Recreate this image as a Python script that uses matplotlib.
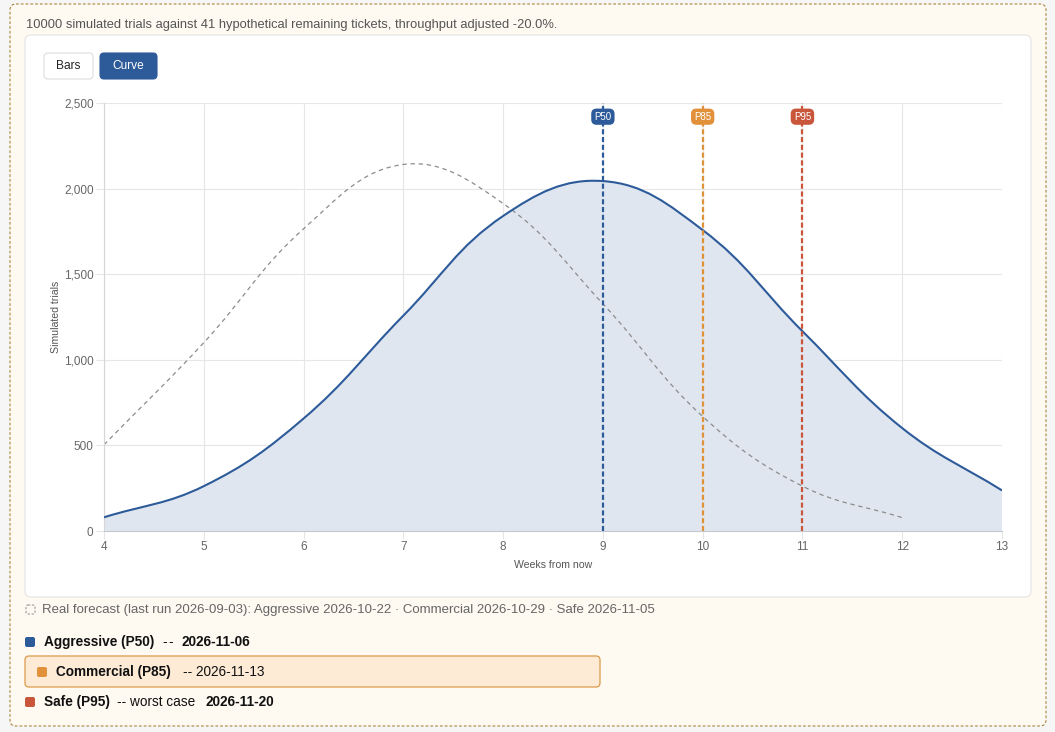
import matplotlib
matplotlib.use('Agg')
import matplotlib.pyplot as plt
from matplotlib.patches import FancyBboxPatch, PathPatch
from matplotlib.path import Path
from matplotlib.ticker import FuncFormatter
import numpy as np

plt.rcParams['font.family'] = ['Liberation Sans', 'DejaVu Sans']

# data
weeks = [4, 5, 6, 7, 8, 9, 10, 11, 12, 13]
trials = [80, 262, 657, 1258, 1840, 2044, 1758, 1167, 601, 237]
real_weeks = [4, 5, 6, 7, 8, 9, 10, 11, 12]
real_trials = [504, 1100, 1765, 2141, 1913, 1327, 669, 262, 78]
markers = ['P50', 'P85', 'P95']
marker_weeks = [9, 10, 11]

BLUE = '#2d5b9a'
ORANGE = '#e0913a'
RED = '#c9553a'
marker_colors = [BLUE, ORANGE, RED]

W, H = 1055, 732
fig = plt.figure(figsize=(W / 100, H / 100), dpi=100)
fig.patch.set_facecolor('#f6f6f7')

# background layer in pixel coords
bg = fig.add_axes([0, 0, 1, 1], zorder=-1)
bg.set_xlim(0, W)
bg.set_ylim(H, 0)
bg.axis('off')

bg.add_patch(FancyBboxPatch((10, 4), 1036, 722, boxstyle='round,pad=0,rounding_size=6',
                            fc='#fef9f1', ec='#a8873c', lw=0.8, ls=(0, (2.5, 1.8))))
bg.add_patch(FancyBboxPatch((25, 35), 1006, 562, boxstyle='round,pad=0,rounding_size=6',
                            fc='white', ec='#e4e4e4', lw=0.8))
bg.text(26, 25, '10000 simulated trials against 41 hypothetical remaining tickets, throughput adjusted -20.0%.',
        fontsize=9.3, color='#555555', va='center')

# toggle buttons
bg.add_patch(FancyBboxPatch((44, 53), 49, 26, boxstyle='round,pad=0,rounding_size=4',
                            fc='white', ec='#dddddd', lw=0.8))
bg.text(68.5, 66, 'Bars', fontsize=8.6, color='#222222', ha='center', va='center')
bg.add_patch(FancyBboxPatch((100, 53), 57, 26, boxstyle='round,pad=0,rounding_size=4',
                            fc=BLUE, ec=BLUE, lw=0.8))
bg.text(128.5, 66, 'Curve', fontsize=8.6, color='white', ha='center', va='center')

# footer
bg.add_patch(FancyBboxPatch((26, 605), 9, 9, boxstyle='round,pad=0,rounding_size=2',
                            fc='none', ec='#999999', lw=0.8, ls=(0, (2, 1.5))))
bg.text(42, 610, 'Real forecast (last run 2026-09-03): Aggressive 2026-10-22 \u00b7 Commercial 2026-10-29 \u00b7 Safe 2026-11-05',
        fontsize=9.5, color='#666666', va='center')

bg.add_patch(FancyBboxPatch((25, 656), 575, 31, boxstyle='round,pad=0,rounding_size=4',
                            fc='#fdebd6', ec='#dc9a4a', lw=0.9))

LS = 9.8
bg.add_patch(FancyBboxPatch((25, 637), 10, 10, boxstyle='round,pad=0,rounding_size=2', fc=BLUE, ec='none'))
bg.text(44, 642, 'Aggressive (P50)', fontsize=LS, fontweight='bold', color='#111111', va='center')
bg.text(162, 642, '-', fontsize=LS, color='#111111', va='center')
bg.text(168, 642, '-', fontsize=LS, color='#111111', va='center')
bg.text(181, 642, '2026-11-06', fontsize=LS, fontweight='bold', color='#111111', va='center')

bg.add_patch(FancyBboxPatch((37, 667), 10, 10, boxstyle='round,pad=0,rounding_size=2', fc=ORANGE, ec='none'))
bg.text(56, 672, 'Commercial (P85)', fontsize=LS, fontweight='bold', color='#111111', va='center')
bg.text(183, 672, '-- 2026-11-13', fontsize=LS, color='#111111', va='center')

bg.add_patch(FancyBboxPatch((25, 697), 10, 10, boxstyle='round,pad=0,rounding_size=2', fc=RED, ec='none'))
bg.text(44, 702, 'Safe (P95)', fontsize=LS, fontweight='bold', color='#111111', va='center')
bg.text(117, 702, '-- worst case', fontsize=LS, color='#111111', va='center')
bg.text(206, 702, '2026-11-20', fontsize=LS, fontweight='bold', color='#111111', va='center')

# chart area
x0, x1, y0, y1 = 104, 1002, 103, 531
ax = fig.add_axes([x0 / W, 1 - y1 / H, (x1 - x0) / W, (y1 - y0) / H])
ax.set_facecolor('none')
ax.set_xlim(4, 13)
ax.set_ylim(0, 2500)
sx = (x1 - x0) / 9.0
sy = (y1 - y0) / 2500.0


def bezier_verts(xs, ys, t=0.4):
    xs = np.asarray(xs, float)
    ys = np.asarray(ys, float)
    n = len(xs)
    cin, cout = [], []
    for i in range(n):
        p = np.array([xs[i], ys[i]])
        prv = np.array([xs[max(i - 1, 0)], ys[max(i - 1, 0)]])
        nxt = np.array([xs[min(i + 1, n - 1)], ys[min(i + 1, n - 1)]])
        d01 = np.hypot((p[0] - prv[0]) * sx, (p[1] - prv[1]) * sy)
        d12 = np.hypot((nxt[0] - p[0]) * sx, (nxt[1] - p[1]) * sy)
        tot = d01 + d12
        s01 = d01 / tot if tot else 0
        s12 = d12 / tot if tot else 0
        cin.append(p - t * s01 * (nxt - prv))
        cout.append(p + t * s12 * (nxt - prv))
    verts = [(xs[0], ys[0])]
    codes = [Path.MOVETO]
    for i in range(n - 1):
        verts += [tuple(cout[i]), tuple(cin[i + 1]), (xs[i + 1], ys[i + 1])]
        codes += [Path.CURVE4] * 3
    return verts, codes


v, c = bezier_verts(weeks, trials)
fill_path = Path(v + [(weeks[-1], 0), (weeks[0], 0), (weeks[0], 0)],
                 c + [Path.LINETO, Path.LINETO, Path.CLOSEPOLY])
ax.add_patch(PathPatch(fill_path, fc='#dfe6f0', ec='none', zorder=1))
ax.add_patch(PathPatch(Path(v, c), fc='none', ec=BLUE, lw=1.5, zorder=3))

rv, rc = bezier_verts(real_weeks, real_trials)
ax.add_patch(PathPatch(Path(rv, rc), fc='none', ec='#8c8c8c', lw=0.9, ls=(0, (3.5, 3)), zorder=2))

for name, wk, col in zip(markers, marker_weeks, marker_colors):
    ax.vlines(wk, 0, 2500, colors=col, lw=1.6, linestyles=(0, (2.3, 1.2)), zorder=4)
    ax.text(wk, 2420, name, fontsize=7, color='white', ha='center', va='center', zorder=5,
            bbox=dict(boxstyle='round,pad=0.32,rounding_size=0.55', fc=col, ec='none'))

ax.set_xticks(weeks)
ax.set_yticks(range(0, 2501, 500))
ax.yaxis.set_major_formatter(FuncFormatter(lambda y, _: '{:,.0f}'.format(y)))
ax.grid(True, color='#e6e6e6', lw=0.8)
ax.set_axisbelow(True)
ax.tick_params(length=6, color='#e6e6e6', labelsize=8.5, labelcolor='#666666', pad=1.5)
for s in ['top', 'right']:
    ax.spines[s].set_visible(False)
ax.spines['left'].set_color('#d6d6d6')
ax.spines['bottom'].set_color('#c4c8d0')
ax.set_xlabel('Weeks from now', fontsize=7.6, color='#555555', labelpad=5)
ax.set_ylabel('Simulated trials', fontsize=7.6, color='#555555', labelpad=2)

fig.savefig('out.png', dpi=100)
